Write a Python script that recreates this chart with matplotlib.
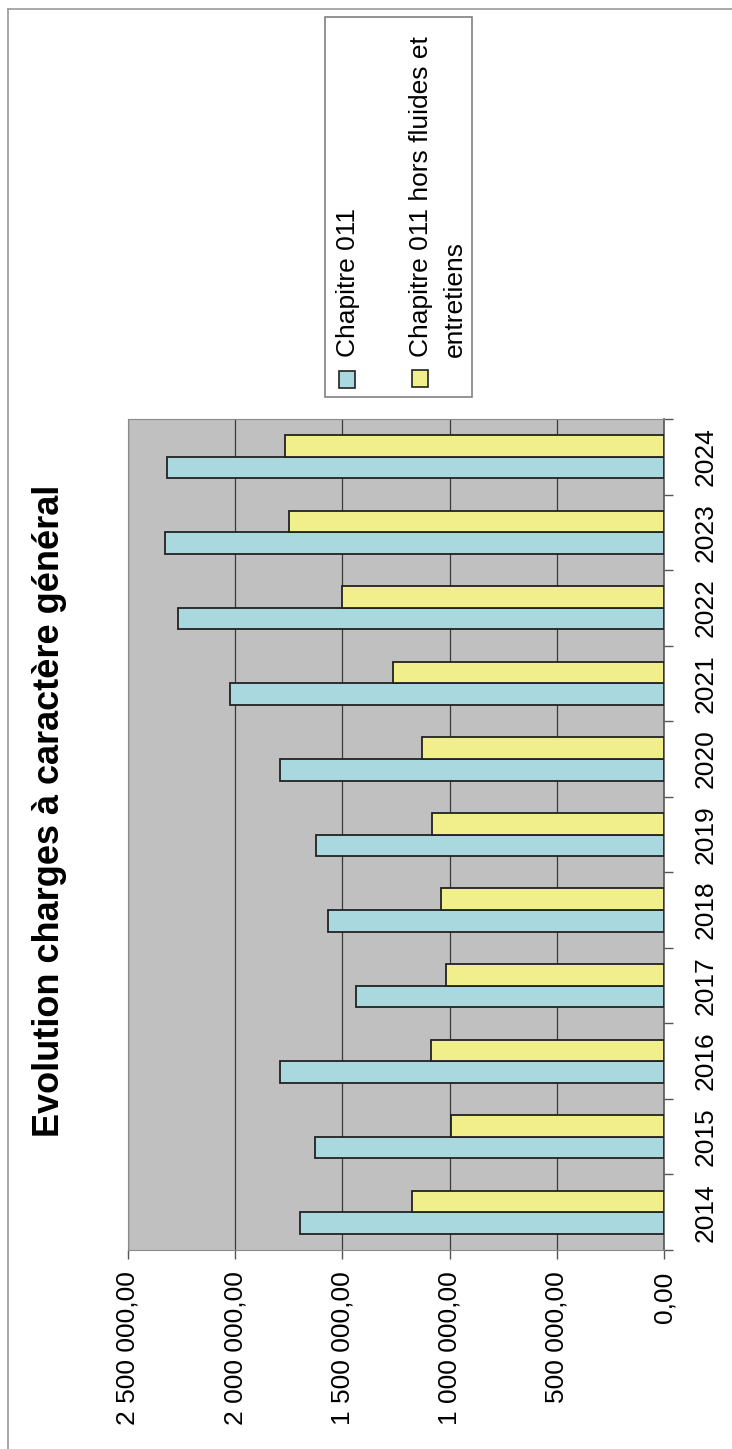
import numpy as np
import matplotlib
matplotlib.use('Agg')
import matplotlib.pyplot as plt
from matplotlib.patches import Rectangle
from matplotlib.lines import Line2D
from matplotlib.ticker import FuncFormatter

plt.rcParams['font.family'] = ['Liberation Sans', 'DejaVu Sans']

years = ['2014', '2015', '2016', '2017', '2018', '2019', '2020', '2021', '2022', '2023', '2024']
chapitre_011 = [1700000, 1628000, 1790000, 1435000, 1567000, 1623000, 1793000, 2025000, 2267000, 2329000, 2320000]
hors_fluides = [1176000, 992000, 1085000, 1019000, 1038000, 1081000, 1131000, 1262000, 1503000, 1748000, 1766000]
value_ticks = [0, 500000, 1000000, 1500000, 2000000, 2500000]

title = 'Evolution charges à caractère général'
labels = ['Chapitre 011', 'Chapitre 011 hors fluides et', 'entretiens']

blue = '#a9d8df'
yellow = '#f1ee8c'
W, H = 732, 1449


def fx(px):
    return px / W


def fy(py):
    return 1 - py / H


def fr_number(v, pos=None):
    s = '{:,.2f}'.format(v)
    return s.replace(',', ' ').replace('.', ',')


fig = plt.figure(figsize=(W / 100, H / 100), dpi=100)
fig.patch.set_facecolor('white')

# page frame from the scan
fig.add_artist(Line2D([fx(8), fx(8)], [fy(9), 0], color='#9a9a9a', lw=1.2))
fig.add_artist(Line2D([fx(8), 1], [fy(9), fy(9)], color='#9a9a9a', lw=1.2))

ax = fig.add_axes([fx(128), fy(1250), fx(664) - fx(128), fy(419) - fy(1250)])
ax.set_facecolor('#c0c0c0')

idx = np.arange(len(years))
h = 1 / 3.5
ax.barh(idx - h / 2, chapitre_011, height=h, color=blue, edgecolor='#222222', lw=1.3, zorder=3)
ax.barh(idx + h / 2, hors_fluides, height=h, color=yellow, edgecolor='#222222', lw=1.3, zorder=3)

ax.set_xlim(2500000, 0)
ax.set_ylim(-0.5, len(years) - 0.5)

ax.set_xticks(value_ticks)
ax.xaxis.set_major_formatter(FuncFormatter(fr_number))
ax.tick_params(axis='x', direction='out', length=6.5, width=1, color='#555555', pad=9, labelsize=19)
for t in ax.get_xticklabels():
    t.set_rotation(90)

ax.yaxis.tick_right()
ax.set_yticks(idx)
ax.set_yticklabels(years, rotation=90, va='center')
ax.set_yticks(np.arange(-0.5, len(years), 1), minor=True)
ax.tick_params(axis='y', which='major', length=0, pad=21, labelsize=19)
ax.tick_params(axis='y', which='minor', direction='out', length=6.5, width=1, color='#555555',
               right=True, left=False)

ax.xaxis.grid(True, color='#3a3a3a', lw=0.9)
ax.set_axisbelow(True)
for side in ['left', 'top', 'bottom']:
    ax.spines[side].set_color('#8a8a8a')
ax.spines['right'].set_color('#555555')
ax.spines['right'].set_linewidth(1.2)

fig.text(fx(50), fy(811), title, rotation=90, ha='center', va='center',
         fontsize=26, fontweight='bold')

# legend drawn by hand, rotated like the rest of the scan
fig.add_artist(Rectangle((fx(325), fy(397)), fx(472) - fx(325), fy(17) - fy(397),
                         facecolor='white', edgecolor='#808080', lw=1.2))
fig.add_artist(Rectangle((fx(339), fy(388)), fx(16), fy(0) - fy(17),
                         facecolor=blue, edgecolor='#222222', lw=1.2))
fig.add_artist(Rectangle((fx(412), fy(387)), fx(16), fy(0) - fy(17),
                         facecolor=yellow, edgecolor='#222222', lw=1.2))
fig.text(fx(348), fy(357), labels[0], rotation=90, rotation_mode='anchor',
         ha='left', va='center', fontsize=19)
fig.text(fx(421), fy(357), labels[1], rotation=90, rotation_mode='anchor',
         ha='left', va='center', fontsize=19)
fig.text(fx(455), fy(357), labels[2], rotation=90, rotation_mode='anchor',
         ha='left', va='center', fontsize=19)

fig.savefig('out.png', dpi=100)
